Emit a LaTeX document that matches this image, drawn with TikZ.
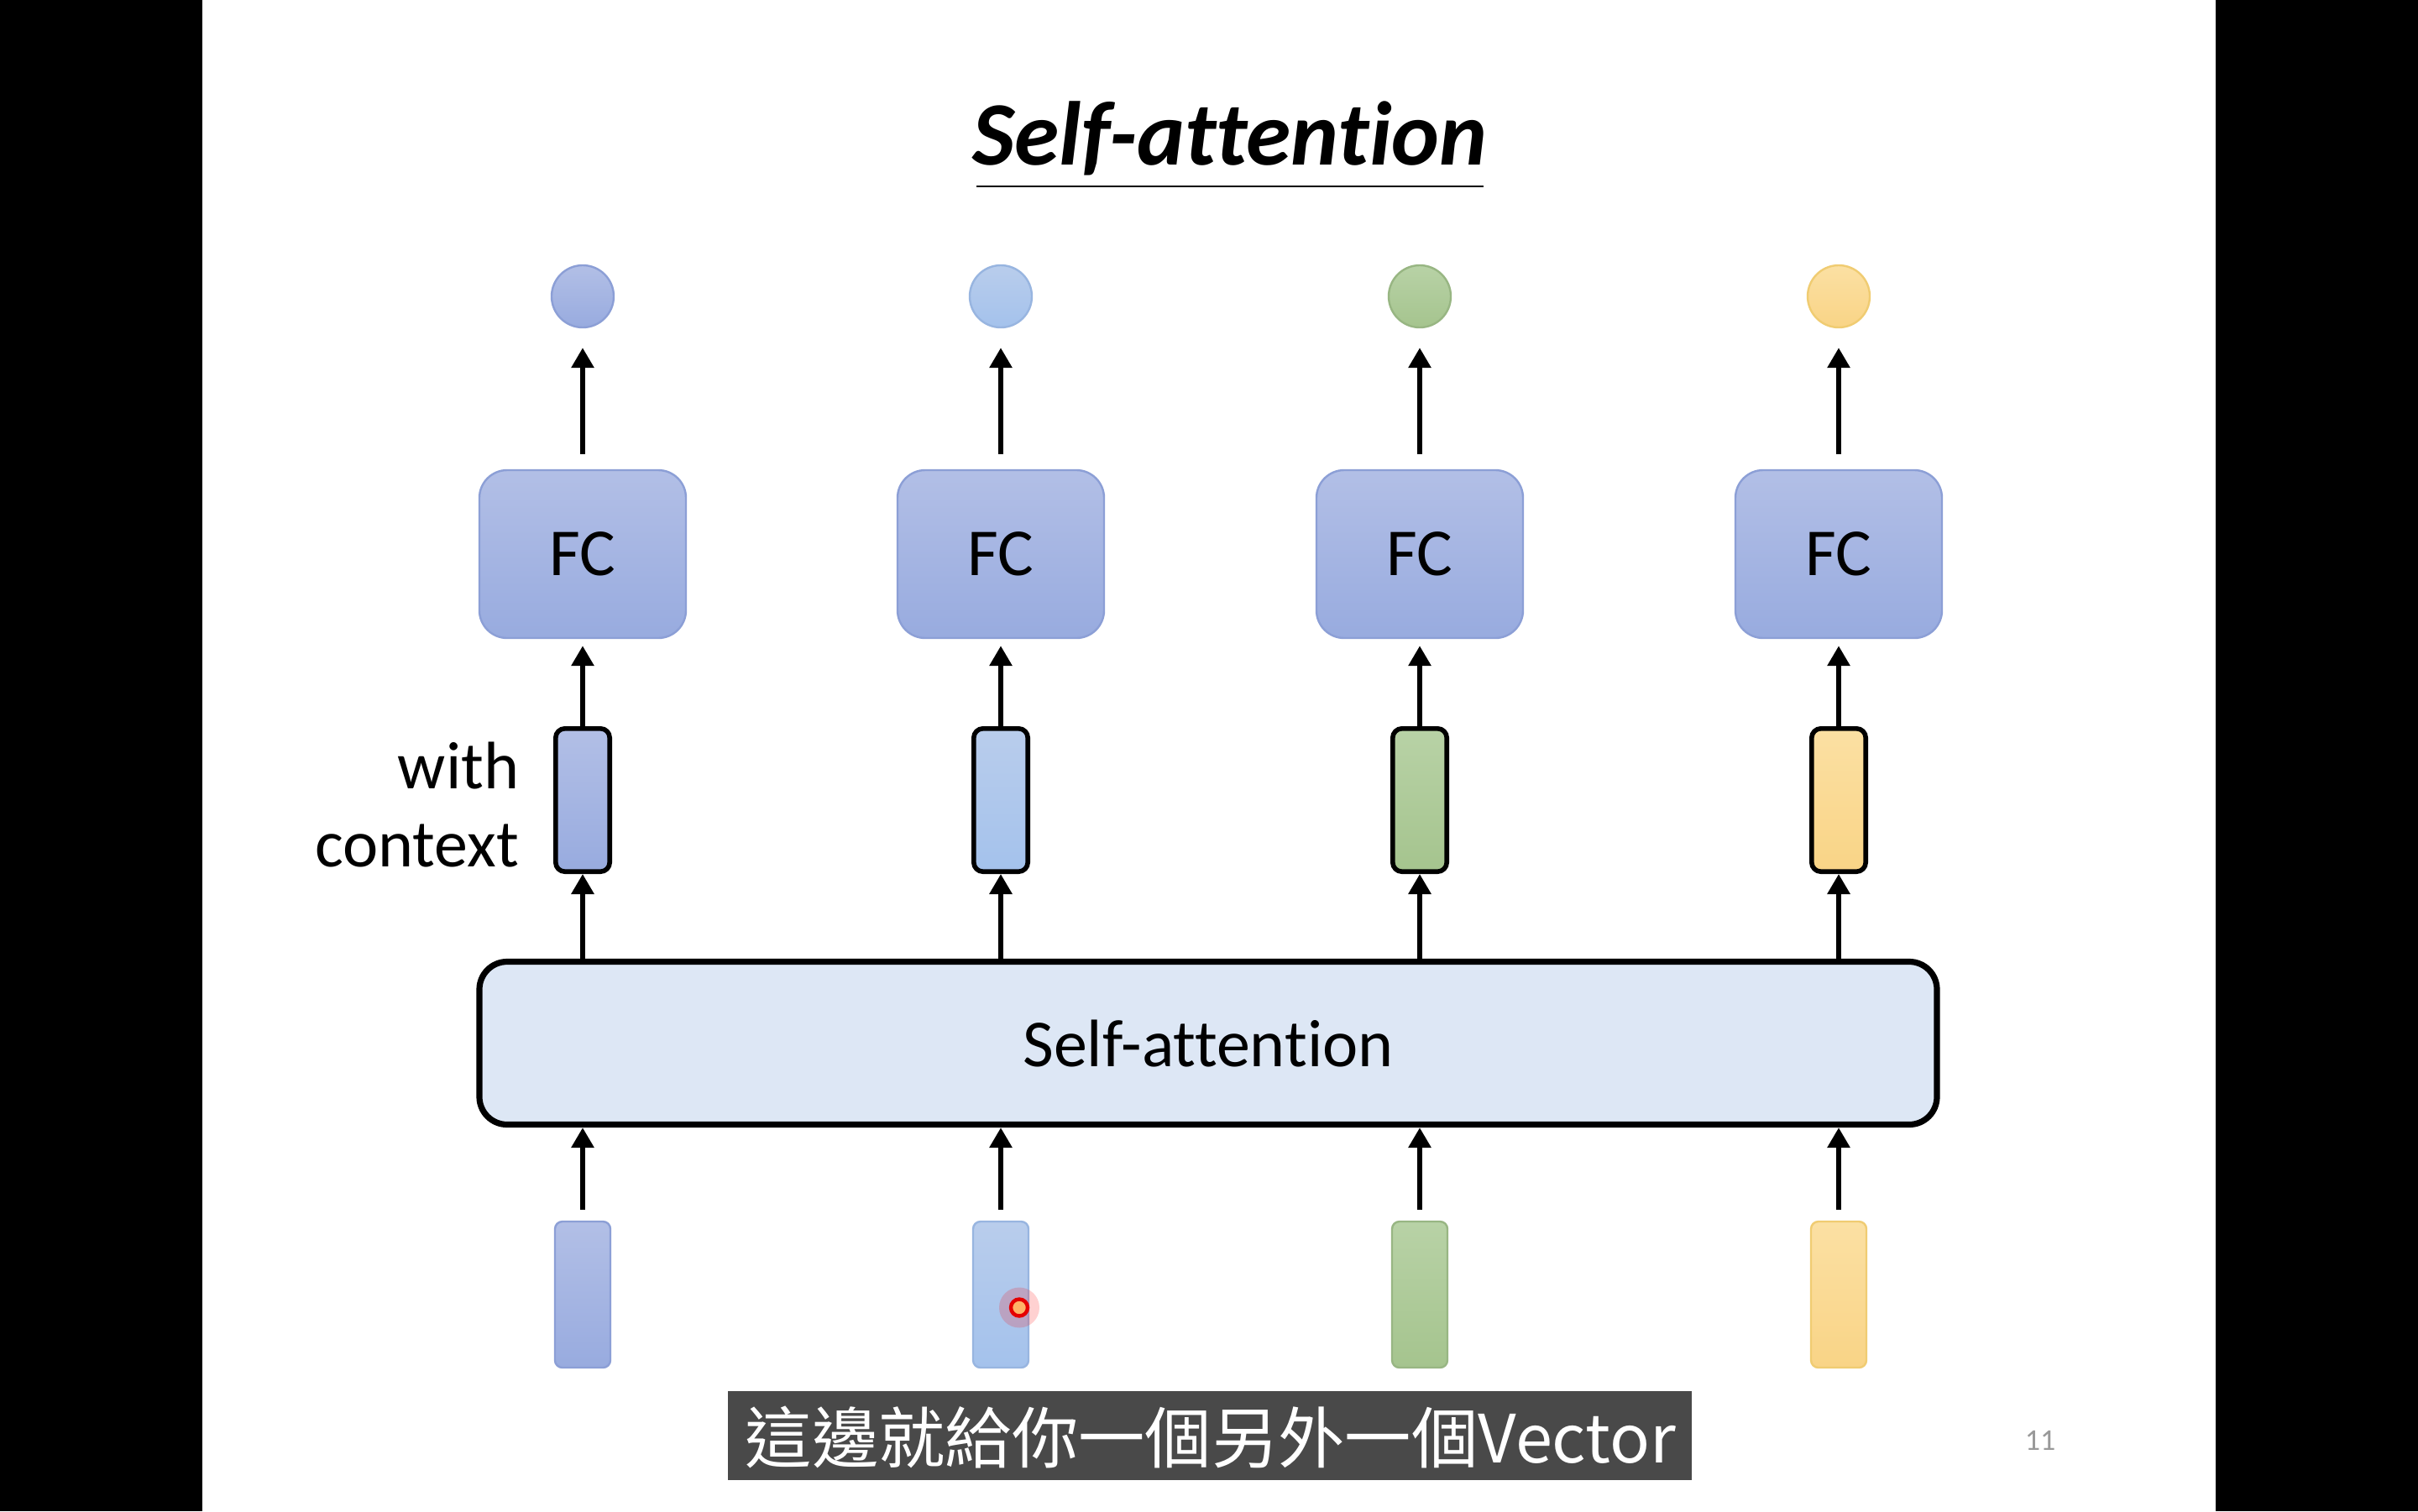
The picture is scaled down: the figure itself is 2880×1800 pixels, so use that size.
\documentclass[tikz,border=0pt]{standalone}
\usepackage{fontspec}
\usepackage{graphicx}
\setmainfont{Carlito}[Ligatures=NoCommon]
\newfontfamily\cjk{Noto Sans CJK TC}
\usetikzlibrary{arrows.meta}
\definecolor{bpA}{HTML}{B2BFE6}\definecolor{bpB}{HTML}{98ABDF}\definecolor{bpD}{HTML}{8C9FD6}
\definecolor{lbA}{HTML}{B9CDEC}\definecolor{lbB}{HTML}{A4C2EC}\definecolor{lbD}{HTML}{98B5E0}
\definecolor{grA}{HTML}{B8D2A6}\definecolor{grB}{HTML}{A5C48E}\definecolor{grD}{HTML}{98B683}
\definecolor{ylA}{HTML}{FBE0A3}\definecolor{ylB}{HTML}{F9D486}\definecolor{ylD}{HTML}{F0CC72}
\definecolor{sabox}{HTML}{DDE7F5}
\definecolor{subbg}{HTML}{494949}
\tikzset{
  arr/.style={line width=1.6pt,-{Triangle[width=6.5pt,length=6pt]}},
  fcbox/.style={rectangle,rounded corners=8.25pt,minimum width=61.5pt,minimum height=50pt,
    draw=bpD,line width=0.6pt,top color=bpA,bottom color=bpB,font=\fontsize{20}{24}\selectfont,inner sep=0pt},
  outc/.style={circle,minimum size=18.5pt,inner sep=0pt,draw=#1D,line width=0.6pt,top color=#1A,bottom color=#1B},
  ctxvec/.style={rectangle,rounded corners=2.75pt,minimum width=16.1pt,minimum height=42.6pt,inner sep=0pt,
    draw=black,line width=1.4pt,top color=#1A,bottom color=#1B},
  invec/.style={rectangle,rounded corners=2.2pt,minimum width=16.5pt,minimum height=43.5pt,inner sep=0pt,
    draw=#1D,line width=0.6pt,top color=#1A,bottom color=#1B},
  lbl/.style={font=\fontsize{20}{24}\selectfont,inner sep=0pt},
}
\begin{document}
\begin{tikzpicture}[x=0.25pt,y=-0.25pt]
\fill[black] (0,0) rectangle (2880,1800);
\fill[white] (240.6,0) rectangle (2639.3,1800);
\useasboundingbox (0,0) rectangle (2880,1800);
% title
\node[anchor=base,inner sep=0pt,font=\fontsize{27}{32}\bfseries\itshape\selectfont] (title) at (1465,196.5) {Self-attention};
\coordinate (ulL) at (1163,222); \coordinate (ulR) at (1767,222);
\draw[line width=0.7pt] (ulL) -- (ulR);
% self-attention box
\node[rectangle,rounded corners=8.25pt,minimum width=434pt,minimum height=48.5pt,draw=black,line width=1.8pt,
  fill=sabox,lbl] (sa) at (1439,1242.5) {Self-attention};
% columns
\foreach \i/\x/\c in {1/694/bp,2/1192/lb,3/1691/gr,4/2190/yl}{
  \node[outc=\c] (o\i) at (\x,353) {};
  \node[fcbox] (fc\i) at (\x,660) {FC};
  \node[ctxvec=\c] (cv\i) at (\x,953) {};
  \node[invec=\c] (iv\i) at (\x,1542) {};
  \draw[arr,shorten <=4.5pt,shorten >=5.75pt] (fc\i.north) -- (o\i.south);
  \draw[arr,shorten >=2pt] (cv\i.north) -- (fc\i.south);
  \draw[arr] (sa.north -| cv\i) -- (cv\i.south);
  \draw[arr,shorten <=3.25pt] (iv\i.north) -- (sa.south -| iv\i);
}
% with context label
\node[lbl,anchor=base east] (with) at (619,939) {with};
\node[lbl,anchor=base east] (ctx) at (619,1032) {context};
% laser pointer dot
\fill[red,opacity=0.18] (1214,1557.5) circle (6pt);
\node[circle,draw=red!90!black,line width=1.1pt,fill=orange!60!white,minimum size=5pt,inner sep=0pt] (dot) at (1214,1557.5) {};
% subtitle
\fill[subbg] (867,1657) rectangle (2015,1763);
\node[text=white,inner sep=0pt,font=\cjk\fontsize{22}{26}\selectfont] (sub) at (1442,1712) {\resizebox{277pt}{!}{這邊就給你一個另外一個Vector}};
% page number
\node[text=black!40,inner sep=0pt,font=\fontsize{9}{10}\selectfont] (pg) at (2430,1716) {11};
\end{tikzpicture}
\end{document}
